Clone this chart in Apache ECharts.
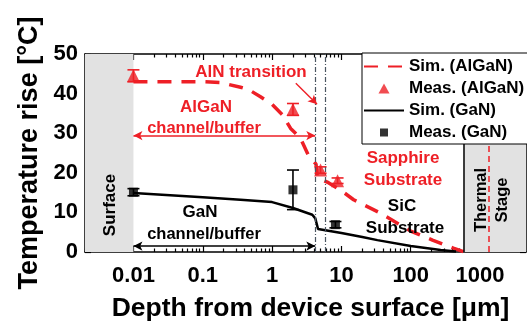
<!DOCTYPE html>
<html><head><meta charset="utf-8">
<script src="https://cdn.jsdelivr.net/npm/echarts@6/dist/echarts.min.js"></script>
<style>html,body{margin:0;padding:0;background:#fff}#c{width:527px;height:323px}</style>
</head><body><div id="c"></div>
<script>
// ---- data ----
const simAlGaNDepth = [0.01, 0.1, 0.18, 0.35, 0.46, 0.68, 1.0, 1.4, 1.85, 2.55, 3.3, 4.3, 4.5, 6.5, 9.6, 15, 34, 100, 206, 412, 575];
const simAlGaNTemp  = [43.0, 43.0, 42.8, 41.6, 41.0, 39.2, 37.3, 34.7, 31.2, 28.8, 24.6, 22.2, 18.8, 17.5, 15.7, 13.2, 10.1, 5.3, 3.0, 1.0, 0.1];
const simGaNDepth = [0.01, 0.1, 0.35, 1.0, 2.0, 3.8, 4.2, 4.6, 10, 20, 33, 100, 270, 450];
const simGaNTemp  = [14.9, 13.8, 13.2, 12.6, 11.1, 9.4, 8.5, 5.8, 4.8, 3.8, 3.0, 1.5, 0.5, 0.1];
const measAlGaNDepth = [0.01, 2.0, 5.0, 8.8];
const measAlGaNTemp  = [44.5, 36.0, 20.7, 18.0];
const measAlGaNErr   = [1.5, 1.5, 0.8, 0.7];
const measGaNDepth = [0.01, 2.0, 8.2];
const measGaNTemp  = [15.1, 15.7, 6.9];
const measGaNErr   = [0.9, 5.0, 0.8];
const xTickLabels = [0.01, 0.1, 1, 10, 100, 1000];
const yTickLabels = [0, 10, 20, 30, 40, 50];
const legendNames = ['Sim. (AlGaN)', 'Meas. (AlGaN)', 'Sim. (GaN)', 'Meas. (GaN)'];
const transitionDepths = [4.2, 5.9];
const surfaceRange = [0.002, 0.01];
const stageRange = [575, 4600];
const stageLineDepth = 1350;

// ---- styling ----
const FONT = "'Liberation Sans', Arial, sans-serif";
const RED = '#ee1f26';
const xMin = 0.002, xMax = 4600;
const minorTicks = [];
for (let e = -3; e <= 3; e++) for (let k = 2; k <= 9; k++) {
  const v = +(k * Math.pow(10, e)).toPrecision(3);
  if (v >= xMin && v <= xMax) minorTicks.push(v);
}
const zip = (a, b) => a.map((x, i) => [x, b[i]]);

function xAxisDef(pos, ticks, len, withLine, withLabel) {
  return {
    type: 'log', position: pos, min: xMin, max: xMax,
    axisLine: { show: withLine, onZero: false, lineStyle: { color: '#000', width: 1.5 } },
    axisTick: { show: true, inside: true, length: len, customValues: ticks, lineStyle: { color: '#000', width: 1.2 } },
    axisLabel: withLabel ? {
      show: true, customValues: xTickLabels, margin: 13,
      fontFamily: FONT, fontWeight: 'bold', fontSize: 22, color: '#000',
      formatter: v => String(+(+v).toPrecision(3))
    } : { show: false },
    splitLine: { show: false }, minorTick: { show: false }, minorSplitLine: { show: false },
    ...(withLabel ? {
      name: 'Depth from device surface [\u03bcm]', nameLocation: 'middle', nameGap: 43,
      nameTextStyle: { fontFamily: FONT, fontWeight: 'bold', fontSize: 26.5, color: '#000', padding: [0, 0, 0, 10] }
    } : {})
  };
}
function yAxisDef(pos, withLabel) {
  return {
    type: 'value', position: pos, min: 0, max: 50, interval: 10,
    axisLine: { show: true, lineStyle: { color: '#000', width: 1.5 } },
    axisTick: { show: true, inside: true, length: 6, lineStyle: { color: '#000', width: 1.2 } },
    minorTick: { show: true, splitNumber: 2, length: 3.5, lineStyle: { color: '#000', width: 1.2 } },
    axisLabel: withLabel ? { show: true, margin: 7, fontFamily: FONT, fontWeight: 'bold', fontSize: 22, color: '#000',
      formatter: v => (yTickLabels.indexOf(v) >= 0 ? String(v) : '') } : { show: false },
    splitLine: { show: false },
    ...(withLabel ? {
      name: 'Temperature rise [\u00b0C]', nameLocation: 'middle', nameGap: 36,
      nameTextStyle: { fontFamily: FONT, fontWeight: 'bold', fontSize: 27, color: '#000' }
    } : {})
  };
}
function errSeries(name, d, t, e, color) {
  return {
    type: 'custom', name, xAxisIndex: 0, yAxisIndex: 0, z: 4, silent: true,
    data: d.map((x, i) => [x, t[i], e[i]]),
    renderItem(params, api) {
      const x = api.value(0), y = api.value(1), er = api.value(2);
      const p1 = api.coord([x, y + er]), p2 = api.coord([x, y - er]); const h = 6;
      const st = { stroke: color, lineWidth: 1.6 };
      return { type: 'group', children: [
        { type: 'line', shape: { x1: p1[0], y1: p1[1], x2: p2[0], y2: p2[1] }, style: st },
        { type: 'line', shape: { x1: p1[0] - h, y1: p1[1], x2: p1[0] + h, y2: p1[1] }, style: st },
        { type: 'line', shape: { x1: p2[0] - h, y1: p2[1], x2: p2[0] + h, y2: p2[1] }, style: st }
      ] };
    }
  };
}
function text(t, x, y, color, size, rot) {
  return { type: 'text', x, y, rotation: rot || 0, z: 100,
    style: { text: t, fill: color, align: 'center', verticalAlign: 'middle',
      font: `bold ${size}px ${FONT}` } };
}

const chart = echarts.init(document.getElementById('c'), null, { renderer: 'canvas' });
chart.setOption({
  animation: false,
  backgroundColor: '#fff',
  grid: { left: 85, right: 1, top: 54, bottom: 71, containLabel: false, outerBoundsMode: 'none' },
  xAxis: [
    xAxisDef('bottom', xTickLabels, 6, true, true),
    xAxisDef('bottom', minorTicks, 3.5, false, false),
    xAxisDef('top', xTickLabels, 6, true, false),
    xAxisDef('top', minorTicks, 3.5, false, false)
  ],
  yAxis: [yAxisDef('left', true), yAxisDef('right', false)],
  legend: {
    data: [
      { name: legendNames[0], itemStyle: { opacity: 0 } },
      { name: legendNames[1], icon: 'path://M0,0M12,12M0.5,11L6,1L11.5,11Z' },
      { name: legendNames[2], itemStyle: { opacity: 0 } },
      { name: legendNames[3], icon: 'path://M0,0M12,12M2,2L10,2L10,10L2,10Z' }
    ],
    orient: 'vertical', left: 362, top: 53, itemWidth: 40, itemHeight: 12, itemGap: 5,
    padding: [5, 14, 3, 1], borderColor: '#000', borderWidth: 1, borderRadius: 0,
    backgroundColor: '#fff', selectedMode: false, z: 20,
    textStyle: { fontFamily: FONT, fontWeight: 'bold', fontSize: 17, color: '#000', lineHeight: 17 }
  },
  series: [
    { // shaded regions and guide lines
      type: 'line', name: 'bg', data: [], z: 1, silent: true,
      markArea: { silent: true, itemStyle: { color: '#e2e2e2' },
        data: [[{ xAxis: surfaceRange[0] }, { xAxis: surfaceRange[1] }], [{ xAxis: stageRange[0] }, { xAxis: stageRange[1] }]] },
      markLine: { silent: true, symbol: 'none', label: { show: false },
        data: [
          { xAxis: transitionDepths[0], lineStyle: { color: '#4a5560', width: 1.2, type: [5, 2, 1, 2] } },
          { xAxis: transitionDepths[1], lineStyle: { color: '#4a5560', width: 1.2, type: [5, 2, 1, 2] } },
          { xAxis: stageRange[0], lineStyle: { color: '#000', width: 1.5, type: 'solid' } },
          { xAxis: stageLineDepth, lineStyle: { color: RED, width: 1.5, type: [6, 4] } }
        ] }
    },
    { // double arrows & AlN arrow
      type: 'line', name: 'arrows', data: [], z: 3, silent: true,
      markLine: { silent: true, symbol: ['arrow', 'arrow'], symbolSize: [7, 9], label: { show: false },
        data: [
          [{ coord: [0.01, 29.4], lineStyle: { color: RED, width: 1.6, type: 'solid' } }, { coord: [transitionDepths[0], 29.4] }],
          [{ coord: [0.01, 1.5], lineStyle: { color: '#000', width: 1.6, type: 'solid' } }, { coord: [transitionDepths[0], 1.5] }],
          [{ coord: [2.2, 42.6], symbol: 'none', lineStyle: { color: RED, width: 1.4, type: 'solid' } }, { coord: [4.45, 37.3], symbol: 'arrow' }]
        ] }
    },
    { type: 'line', name: legendNames[0], data: zip(simAlGaNDepth, simAlGaNTemp), symbol: 'none', z: 3,
      lineStyle: { color: RED, width: 3.5, type: [14, 10] }, itemStyle: { color: RED } },
    { type: 'line', name: legendNames[2], data: zip(simGaNDepth, simGaNTemp), symbol: 'none', z: 3,
      lineStyle: { color: '#000', width: 2.5 }, itemStyle: { color: '#000' } },
    errSeries('errAlGaN', measAlGaNDepth, measAlGaNTemp, measAlGaNErr, RED),
    errSeries('errGaN', measGaNDepth, measGaNTemp, measGaNErr, '#000'),
    { type: 'scatter', name: legendNames[1], data: zip(measAlGaNDepth, measAlGaNTemp), symbol: 'triangle', symbolSize: 13, z: 5,
      itemStyle: { color: RED } },
    { type: 'scatter', name: legendNames[3], data: zip(measGaNDepth, measGaNTemp), symbol: 'rect', symbolSize: 9, z: 5,
      itemStyle: { color: '#000' } }
  ],
  graphic: [
    text('AlN transition', 251, 72, RED, 17),
    text('AlGaN', 206, 107, RED, 17),
    text('channel/buffer', 204, 128, RED, 16.5),
    text('Sapphire', 403, 158, RED, 17),
    text('Substrate', 403, 180, RED, 17),
    text('SiC', 402, 206, '#000', 17),
    text('Substrate', 405, 228, '#000', 17),
    text('GaN', 200, 212, '#000', 17),
    text('channel/buffer', 204, 234, '#000', 16.5),
    text('Surface', 110, 205, '#000', 17, Math.PI / 2),
    text('Thermal', 481, 200, '#000', 16.5, Math.PI / 2),
    text('Stage', 502, 200, '#000', 16.5, Math.PI / 2)
  ]
});
</script></body></html>
